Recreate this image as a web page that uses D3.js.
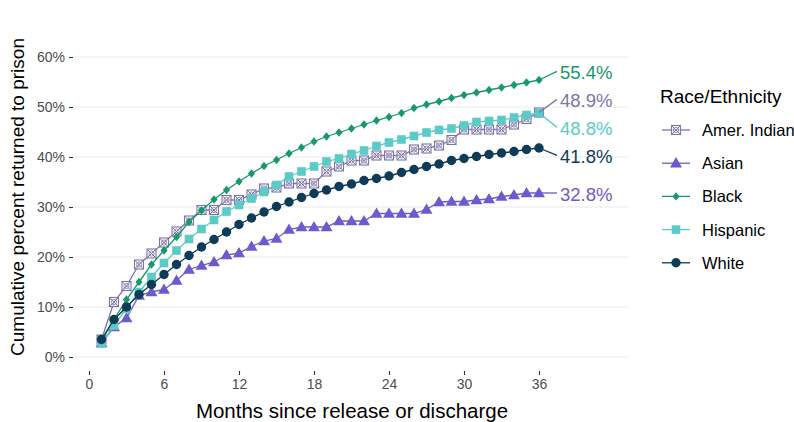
<!DOCTYPE html>
<html>
<head>
<meta charset="utf-8">
<script src="https://cdn.jsdelivr.net/npm/d3@7"></script>
<style>
  html, body { margin: 0; padding: 0; background: #ffffff; }
  svg { display: block; font-family: "Liberation Sans", Arial, Helvetica, sans-serif; }
</style>
</head>
<body>
<svg id="chart" width="794" height="422"></svg>
<script>
// ---------- data ----------
const months = d3.range(1, 37);
const seriesNames = ["Amer. Indian", "Asian", "Black", "Hispanic", "White"];
const amerIndian = [3.5, 11, 14.2, 18.5, 20.7, 22.9, 25.1, 27.3, 29.4, 29.4, 31.4, 31.4, 32.5, 33.7, 33.9, 34.7, 34.7, 34.7, 37.1, 38.1, 39.3, 39.3, 40.3, 40.3, 40.3, 41.5, 41.7, 42.3, 43.4, 45.5, 45.5, 45.5, 45.5, 46.5, 47.6, 48.9];
const asian = [2.8, 6, 7.8, 12.3, 13, 13.5, 15.3, 17.5, 18.3, 19, 20.4, 20.8, 22.1, 23.2, 23.7, 25.5, 26, 26, 26, 27.2, 27.2, 27.2, 28.7, 28.7, 28.7, 28.7, 29.5, 31, 31.1, 31.1, 31.4, 31.6, 32.1, 32.4, 32.8, 32.8];
const black = [3.2, 7.5, 11.5, 15, 18.5, 21.3, 24, 27, 29.3, 31.5, 33.4, 35.1, 36.7, 38.2, 39.4, 40.7, 41.9, 43.1, 44.1, 44.9, 45.7, 46.5, 47.3, 48, 48.8, 49.8, 50.5, 51.1, 51.8, 52.4, 52.9, 53.4, 53.9, 54.4, 54.9, 55.4];
const hispanic = [2.7, 6.3, 9.7, 13, 16, 18.8, 21.3, 23.6, 25.6, 27.4, 29.1, 30.4, 31.7, 33, 34.4, 36.1, 37.1, 38.1, 39.1, 39.7, 40.6, 41.3, 42.2, 42.9, 43.5, 44.2, 44.9, 45.4, 45.7, 46.3, 47, 47.2, 47.4, 47.9, 48.4, 48.8];
const white = [3.5, 7.5, 10, 12.5, 14.5, 16.5, 18.5, 20.3, 22, 23.5, 25, 26.5, 27.8, 29, 30.1, 31, 31.9, 32.7, 33.4, 34.1, 34.6, 35.3, 35.7, 36.2, 36.9, 37.5, 38.1, 38.6, 39.3, 39.7, 40.1, 40.5, 40.8, 41.1, 41.5, 41.8];
const endLabels = ["48.9%", "32.8%", "55.4%", "48.8%", "41.8%"];
const xTicks = [0, 6, 12, 18, 24, 30, 36];
const yTicks = [0, 10, 20, 30, 40, 50, 60];

const colors = ["#7d74a9", "#6a5cce", "#17996b", "#5ccbc7", "#0e3c57"];
const shapes = ["squarecross", "triangle", "diamond", "square", "circle"];
const values = [amerIndian, asian, black, hispanic, white];

const series = seriesNames.map((name, i) => ({
  name, color: colors[i], shape: shapes[i], label: endLabels[i],
  points: months.map((m, j) => ({ m, v: values[i][j] }))
}));

// ---------- layout ----------
const svg = d3.select("#chart");
const panel = { left: 75, right: 628, top: 46, bottom: 370 };
const x = d3.scaleLinear().domain([0, 36]).range([89, 539]);
const y = d3.scaleLinear().domain([0, 60]).range([357, 57]);

// gridlines
svg.append("g").selectAll("line").data(yTicks).join("line")
  .attr("x1", panel.left).attr("x2", panel.right)
  .attr("y1", d => y(d)).attr("y2", d => y(d))
  .attr("stroke", "#ebebeb").attr("stroke-width", 1.1);

// y axis
const yAxis = svg.append("g").attr("transform", `translate(${panel.left - 2},0)`)
  .call(d3.axisLeft(y).tickValues(yTicks).tickFormat(d => d + "%").tickSize(4).tickPadding(4));
yAxis.select(".domain").remove();
yAxis.selectAll(".tick line").attr("stroke", "#333333").attr("stroke-width", 1.1);
yAxis.selectAll(".tick text").attr("fill", "#4d4d4d").attr("font-size", 14).attr("font-family", "Liberation Sans, Arial, sans-serif");

// x axis
const xAxis = svg.append("g").attr("transform", `translate(0,${panel.bottom + 1})`)
  .call(d3.axisBottom(x).tickValues(xTicks).tickSize(4).tickPadding(4));
xAxis.select(".domain").remove();
xAxis.selectAll(".tick line").attr("stroke", "#333333").attr("stroke-width", 1.1);
xAxis.selectAll(".tick text").attr("fill", "#4d4d4d").attr("font-size", 14).attr("font-family", "Liberation Sans, Arial, sans-serif");

// axis titles
svg.append("text").attr("x", 352).attr("y", 418)
  .attr("text-anchor", "middle").attr("font-size", 20.5).attr("fill", "#000")
  .text("Months since release or discharge");
svg.append("text").attr("transform", `translate(24,${(panel.top + panel.bottom) / 2 - 11}) rotate(-90)`)
  .attr("text-anchor", "middle").attr("font-size", 19).attr("fill", "#000")
  .text("Cumulative percent returned to prison");

// symbol helper
function drawMarker(g, shape, color, cx, cy) {
  if (shape === "squarecross") {
    const s = 4.5;
    g.append("rect").attr("x", cx - s).attr("y", cy - s).attr("width", 2 * s).attr("height", 2 * s)
      .attr("fill", "#ffffff").attr("fill-opacity", 0.6).attr("stroke", color).attr("stroke-width", 1.1);
    g.append("path").attr("d", `M${cx - s},${cy - s}L${cx + s},${cy + s}M${cx - s},${cy + s}L${cx + s},${cy - s}`)
      .attr("stroke", color).attr("stroke-width", 1);
    g.append("circle").attr("cx", cx).attr("cy", cy).attr("r", 2.6).attr("fill", "none")
      .attr("stroke", color).attr("stroke-width", 0.8);
  } else if (shape === "triangle") {
    g.append("path").attr("d", d3.symbol(d3.symbolTriangle, 62)())
      .attr("transform", `translate(${cx},${cy + 0.8})`).attr("fill", color);
  } else if (shape === "diamond") {
    const s = 4.2;
    g.append("path").attr("d", `M${cx},${cy - s}L${cx + s * 0.85},${cy}L${cx},${cy + s}L${cx - s * 0.85},${cy}Z`)
      .attr("fill", color);
  } else if (shape === "square") {
    const s = 4.3;
    g.append("rect").attr("x", cx - s).attr("y", cy - s).attr("width", 2 * s).attr("height", 2 * s).attr("fill", color);
  } else {
    g.append("circle").attr("cx", cx).attr("cy", cy).attr("r", 4.7).attr("fill", color);
  }
}

// lines & markers
const line = d3.line().x(d => x(d.m)).y(d => y(d.v));
series.forEach(s => {
  const g = svg.append("g");
  g.append("path").datum(s.points).attr("d", line)
    .attr("fill", "none").attr("stroke", s.color).attr("stroke-width", 1.3);
  s.points.forEach(p => drawMarker(g, s.shape, s.color, x(p.m), y(p.v)));
});

// end labels with simple repel
const lab = series.map(s => {
  const last = s.points[s.points.length - 1];
  return { s, px: x(last.m), py: y(last.v), ly: y(last.v) };
}).sort((a, b) => a.py - b.py);
const gap = 28;
for (let it = 0; it < 500; it++) {
  for (let i = 0; i < lab.length - 1; i++) {
    const d = lab[i + 1].ly - lab[i].ly;
    if (d < gap) {
      const push = (gap - d) / 2;
      lab[i].ly -= push; lab[i + 1].ly += push;
    }
  }
}
const lx = 560;
lab.forEach(l => {
  svg.append("line").attr("x1", l.px).attr("y1", l.py).attr("x2", lx - 3).attr("y2", l.ly)
    .attr("stroke", l.s.color).attr("stroke-width", 1.3);
  svg.append("text").attr("x", lx).attr("y", l.ly + 1).attr("dy", "0.36em")
    .attr("font-size", 18.5).attr("fill", l.s.color).text(l.s.label);
});

// legend
const leg = svg.append("g");
leg.append("text").attr("x", 660).attr("y", 103).attr("font-size", 19).attr("fill", "#000").text("Race/Ethnicity");
series.forEach((s, i) => {
  const cy = 130 + i * 33.2;
  const g = leg.append("g");
  g.append("line").attr("x1", 662).attr("x2", 690).attr("y1", cy).attr("y2", cy)
    .attr("stroke", s.color).attr("stroke-width", 1.3);
  drawMarker(g, s.shape, s.color, 676, cy);
  g.append("text").attr("x", 702).attr("y", cy).attr("dy", "0.36em")
    .attr("font-size", 16.5).attr("fill", "#000").text(s.name);
});
</script>
</body>
</html>
